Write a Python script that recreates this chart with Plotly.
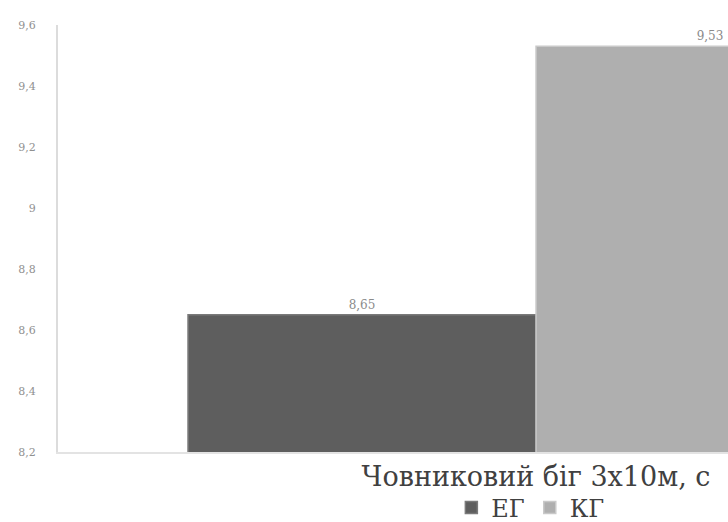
import plotly.graph_objects as go

categories = ["Човниковий біг 3х10м, с"]
series_names = ["ЕГ", "КГ"]
eg_values = [8.65]
kg_values = [9.53]
tick_vals = [8.2, 8.4, 8.6, 8.8, 9.0, 9.2, 9.4, 9.6]
tick_text = ["8,2", "8,4", "8,6", "8,8", "9", "9,2", "9,4", "9,6"]

big_font = "DejaVu Serif, Liberation Serif, serif"
small_font = "DejaVu Serif, Liberation Serif, serif"

fig = go.Figure()
fig.add_trace(go.Bar(
    x=categories, y=eg_values, name=series_names[0],
    marker=dict(color="#5e5e5e", line=dict(color="#7a7a7a", width=1.5)),
    texttemplate="%{y:.2f}", textposition="outside",
    textfont=dict(family=small_font, size=12, color="#8a8a8a"),
    cliponaxis=True,
))
fig.add_trace(go.Bar(
    x=categories, y=kg_values, name=series_names[1],
    marker=dict(color="#afafaf", line=dict(color="#c9c9c9", width=1.5)),
    texttemplate="%{y:.2f}", textposition="outside",
    textfont=dict(family=small_font, size=12, color="#8a8a8a"),
    cliponaxis=True,
))

fig.update_layout(
    width=728, height=522,
    margin=dict(l=58, r=0, t=25, b=70, autoexpand=False),
    paper_bgcolor="white", plot_bgcolor="white",
    separators=",.",
    barmode="group", bargap=0.272, bargroupgap=0,
    font=dict(family=big_font, color="#404040"),
    showlegend=True,
    legend=dict(orientation="h", x=0.705, xanchor="center", y=-0.078, yanchor="top",
                bgcolor="rgba(0,0,0,0)",
                font=dict(family=big_font, size=24, color="#404040"),
                itemwidth=30, traceorder="normal", tracegroupgap=0),
    xaxis=dict(range=[-0.5, 0.2008], showline=True, linecolor="#e3e3e3", linewidth=2,
               ticks="", tickfont=dict(family=big_font, size=27, color="#404040"),
               showgrid=False, zeroline=False),
    yaxis=dict(range=[8.2, 9.6], tickvals=tick_vals, ticktext=tick_text,
               showline=True, linecolor="#dcdcdc", linewidth=2, showgrid=False,
               zeroline=False, ticks="", ticklabelstandoff=18,
               tickfont=dict(family=small_font, size=11, color="#909090")),
)

fig.write_html("out.html")
